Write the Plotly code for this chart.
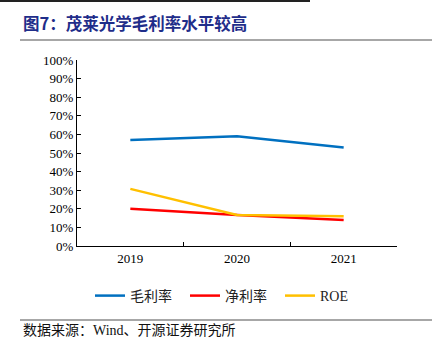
import plotly.graph_objects as go

categories = ["2019", "2020", "2021"]
gross_margin = [0.57, 0.59, 0.53]
net_margin = [0.20, 0.167, 0.14]
roe = [0.307, 0.167, 0.16]
y_ticks = [i / 10 for i in range(11)]
y_tick_labels = [f"{i*10}%" for i in range(11)]

W, H = 434, 354
L, R, T, B = 77, 397, 60, 246

def xp(px):
    return (px - L) / (R - L)

def yp(py):
    return (B - py) / (B - T)

serif = "Liberation Serif, Times New Roman, serif"
cjk = "Liberation Serif, Noto Sans CJK SC, serif"

fig = go.Figure()
fig.add_trace(go.Scatter(x=categories, y=gross_margin, mode="lines", name="毛利率",
                         line=dict(color="#0070C0", width=2.5)))
fig.add_trace(go.Scatter(x=categories, y=net_margin, mode="lines", name="净利率",
                         line=dict(color="#FF0000", width=2.5)))
fig.add_trace(go.Scatter(x=categories, y=roe, mode="lines", name="ROE",
                         line=dict(color="#FFC000", width=2.5)))

fig.update_layout(
    width=W, height=H,
    margin=dict(l=L, r=W - R, t=T, b=H - B),
    paper_bgcolor="white", plot_bgcolor="white",
    font=dict(family=cjk, size=13, color="#000"),
    showlegend=True,
    legend=dict(orientation="h", x=xp(90), xanchor="left", y=yp(296), yanchor="middle",
                font=dict(family=cjk, size=14, color="#222"), itemwidth=30, tracegroupgap=0,
                entrywidth=50, entrywidthmode="pixels"),
    xaxis=dict(type="category", range=[-0.5, 2.5], showline=True, linecolor="#000", linewidth=1,
               ticks="inside", ticklen=4, tickcolor="#000", tickson="boundaries",
               showgrid=False, tickfont=dict(family=serif, size=13), zeroline=False),
    yaxis=dict(range=[0, 1], tickvals=y_ticks, ticktext=y_tick_labels, showline=True,
               linecolor="#000", linewidth=1, ticks="inside", ticklen=4, tickcolor="#000",
               showgrid=False, zeroline=False, tickfont=dict(family=serif, size=13)),
)

shapes = [
    dict(type="line", xref="paper", yref="paper", x0=xp(0), x1=xp(310), y0=yp(1), y1=yp(1),
         line=dict(color="#222", width=2)),
    dict(type="line", xref="paper", yref="paper", x0=xp(20), x1=xp(432), y0=yp(40), y1=yp(40),
         line=dict(color="#8a8a8a", width=1.5)),
    dict(type="line", xref="paper", yref="paper", x0=xp(20), x1=xp(432), y0=yp(320), y1=yp(320),
         line=dict(color="#8a8a8a", width=1.5)),
]
fig.update_layout(shapes=shapes)

fig.add_annotation(text="<b>图7：茂莱光学毛利率水平较高</b>", xref="paper", yref="paper",
                   x=xp(21), y=yp(23), xanchor="left", yanchor="middle", showarrow=False,
                   font=dict(family="Noto Sans CJK SC", size=16.5, color="#1F2D8A"))
fig.add_annotation(text="数据来源：Wind、开源证券研究所", xref="paper", yref="paper",
                   x=xp(21), y=yp(330), xanchor="left", yanchor="middle", showarrow=False,
                   font=dict(family=cjk, size=14, color="#111"))

fig.write_html("out.html")
